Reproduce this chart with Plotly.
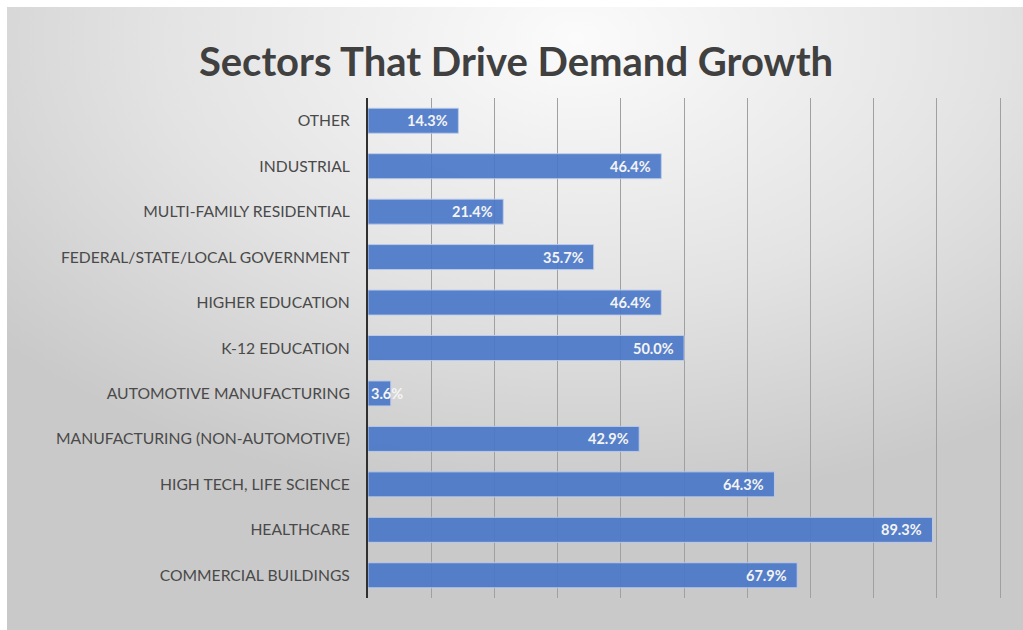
import base64
import plotly.graph_objects as go

# Survey results: share of respondents naming each sector as a driver of demand growth
sectors = [
    "COMMERCIAL BUILDINGS",
    "HEALTHCARE",
    "HIGH TECH, LIFE SCIENCE",
    "MANUFACTURING (NON-AUTOMOTIVE)",
    "AUTOMOTIVE MANUFACTURING",
    "K-12 EDUCATION",
    "HIGHER EDUCATION",
    "FEDERAL/STATE/LOCAL GOVERNMENT",
    "MULTI-FAMILY RESIDENTIAL",
    "INDUSTRIAL",
    "OTHER",
]
shares = [67.9, 89.3, 64.3, 42.9, 3.6, 50.0, 46.4, 35.7, 21.4, 46.4, 14.3]
x_ticks = [0, 10, 20, 30, 40, 50, 60, 70, 80, 90, 100]

W, H = 1023, 630
# plot area in pixels (range padded a touch so the 100% gridline shows)
X_MAX = 100.3
L, T, B = 368, 98, 598
R = L + 632 * X_MAX / 100
pw, ph = R - L, B - T


def px_to_paper_x(px):
    return (px - L) / pw


def px_to_paper_y(py):
    return (B - py) / ph


# soft radial backdrop, light near the title and greying toward the edges
svg = f"""<svg xmlns='http://www.w3.org/2000/svg' width='{W}' height='{H}'>
<defs><radialGradient id='g' cx='0.56' cy='0.05' r='0.75' gradientUnits='objectBoundingBox'>
<stop offset='0' stop-color='#fbfbfb'/>
<stop offset='0.55' stop-color='#e3e3e3'/>
<stop offset='1' stop-color='#c9c9c9'/>
</radialGradient></defs>
<rect width='100%' height='100%' fill='url(#g)'/>
</svg>"""
bg_src = "data:image/svg+xml;base64," + base64.b64encode(svg.encode()).decode()

fig = go.Figure()
fig.add_trace(
    go.Bar(
        y=sectors,
        x=shares,
        orientation="h",
        marker=dict(color="rgba(72,118,200,0.9)", line=dict(color="rgba(190,205,235,0.9)", width=1)),
        hoverinfo="x+y",
        showlegend=False,
    )
)

# value labels at the inner end of each bar
for s, v in zip(sectors, shares):
    if v < 10:
        fig.add_annotation(x=0, y=s, text=f"<b>{v:.1f}%</b>", xanchor="left", xshift=1,
                           showarrow=False, font=dict(family="Lato", size=14.5, color="#f4f4f4"))
    else:
        fig.add_annotation(x=v, y=s, text=f"<b>{v:.1f}%</b>", xanchor="right", xshift=-8,
                           showarrow=False, font=dict(family="Lato", size=14.5, color="#f4f4f4"))

fig.add_layout_image(
    source=bg_src,
    xref="paper", yref="paper",
    x=px_to_paper_x(7), y=px_to_paper_y(7),
    sizex=(W - 7) / pw, sizey=(H - 7) / ph,
    xanchor="left", yanchor="top",
    sizing="stretch", layer="below",
)

fig.update_layout(
    width=W, height=H,
    margin=dict(l=L, r=W - R, t=T, b=H - B, autoexpand=False),
    paper_bgcolor="white",
    plot_bgcolor="rgba(0,0,0,0)",
    bargap=0.45,
    title=dict(
        text="<b>Sectors That Drive Demand Growth</b>",
        x=516 / W, xanchor="center",
        y=1 - 62 / H, yanchor="middle",
        font=dict(family="Lato", size=40, color="#404040"),
    ),
    xaxis=dict(
        range=[0, X_MAX],
        tickvals=x_ticks,
        showticklabels=False,
        showgrid=True,
        gridcolor="#a0a0a0",
        gridwidth=1,
        zeroline=False,
        showline=False,
        fixedrange=True,
    ),
    yaxis=dict(
        showline=True,
        linecolor="#303030",
        linewidth=2,
        ticks="",
        ticklabelstandoff=13,
        tickfont=dict(family="Lato", size=15.7, color="#4a4a4a"),
        showgrid=False,
        fixedrange=True,
    ),
)

fig.write_html("out.html")
